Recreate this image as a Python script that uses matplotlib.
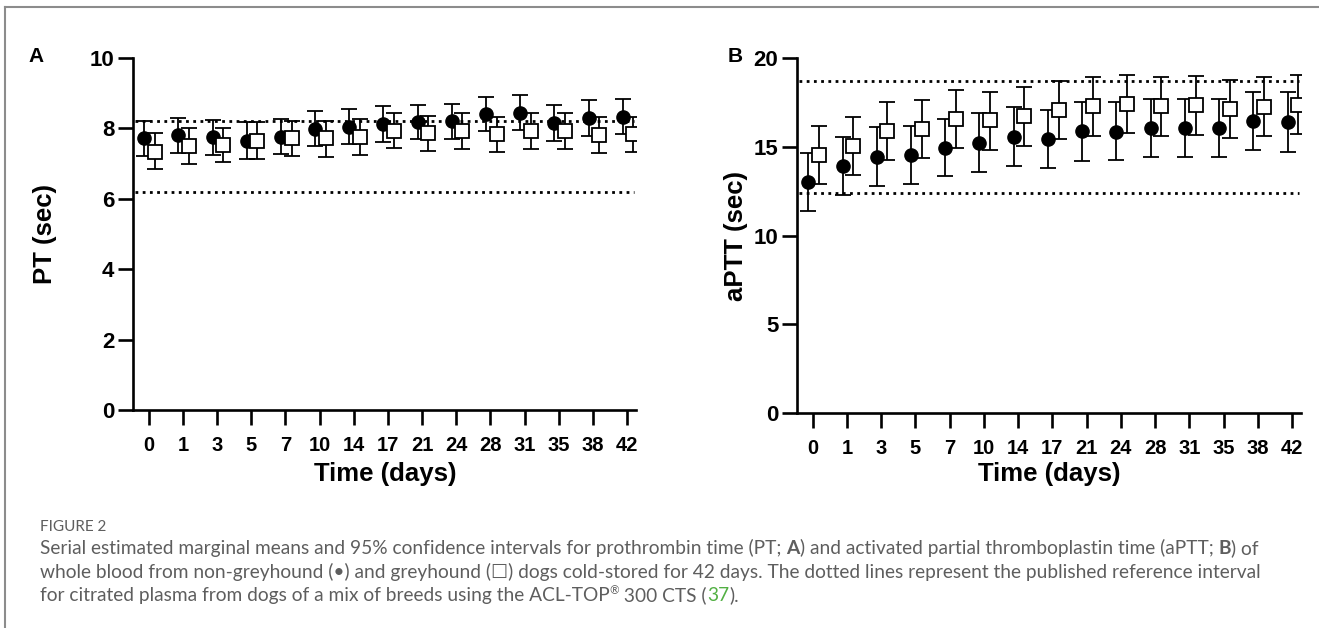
import matplotlib
matplotlib.use("Agg")
import matplotlib.pyplot as plt
from matplotlib.lines import Line2D

# ---------------------------------------------------------------------------
#  data
# ---------------------------------------------------------------------------
days = ["0", "1", "3", "5", "7", "10", "14", "17", "21", "24", "28", "31", "35", "38", "42"]

# panel A : PT (sec)
pt_ng_mean = [7.74, 7.80, 7.76, 7.64, 7.76, 7.98, 8.05, 8.12, 8.19, 8.22, 8.41, 8.45, 8.14, 8.29, 8.33]
pt_ng_hi   = [8.22, 8.29, 8.24, 8.19, 8.28, 8.50, 8.56, 8.63, 8.67, 8.69, 8.89, 8.94, 8.66, 8.81, 8.84]
pt_ng_lo   = [7.22, 7.29, 7.24, 7.13, 7.28, 7.49, 7.56, 7.61, 7.69, 7.71, 7.92, 7.95, 7.65, 7.78, 7.84]
pt_gh_mean = [7.34, 7.50, 7.53, 7.64, 7.72, 7.72, 7.76, 7.93, 7.86, 7.93, 7.84, 7.94, 7.94, 7.80, 7.84]
pt_gh_hi   = [7.86, 8.00, 8.02, 8.19, 8.21, 8.21, 8.26, 8.43, 8.36, 8.43, 8.33, 8.43, 8.43, 8.31, 8.33]
pt_gh_lo   = [6.86, 6.99, 7.04, 7.13, 7.22, 7.20, 7.24, 7.43, 7.36, 7.42, 7.34, 7.42, 7.41, 7.29, 7.34]
pt_ref = [6.2, 8.2]

# panel B : aPTT (sec)
aptt_ng_mean = [13.03, 13.91, 14.41, 14.51, 14.94, 15.22, 15.56, 15.41, 15.88, 15.84, 16.06, 16.06, 16.06, 16.44, 16.38]
aptt_ng_hi   = [14.66, 15.56, 16.10, 16.16, 16.59, 16.91, 17.24, 17.09, 17.51, 17.51, 17.71, 17.71, 17.71, 18.11, 18.07]
aptt_ng_lo   = [11.38, 12.28, 12.78, 12.88, 13.33, 13.59, 13.93, 13.80, 14.19, 14.23, 14.43, 14.40, 14.40, 14.79, 14.71]
aptt_gh_mean = [14.53, 15.03, 15.88, 16.01, 16.57, 16.48, 16.72, 17.09, 17.28, 17.41, 17.32, 17.34, 17.13, 17.24, 17.36]
aptt_gh_hi   = [16.16, 16.68, 17.53, 17.66, 18.20, 18.09, 18.35, 18.73, 18.93, 19.06, 18.93, 19.01, 18.74, 18.91, 19.03]
aptt_gh_lo   = [12.88, 13.40, 14.23, 14.36, 14.92, 14.79, 15.07, 15.46, 15.63, 15.76, 15.63, 15.69, 15.50, 15.60, 15.73]
aptt_ref = [12.4, 18.7]

W, H = 1319, 628
fig = plt.figure(figsize=(W / 100, H / 100), dpi=100)
FONT = "Liberation Sans"


def panel(ax, ng_m, ng_lo, ng_hi, gh_m, gh_lo, gh_hi, ref, ymax, ystep):
    x = list(range(len(days)))
    xc = [i - 0.13 for i in x]
    xs = [i + 0.18 for i in x]
    ng_err = [[m - l for m, l in zip(ng_m, ng_lo)], [h - m for m, h in zip(ng_m, ng_hi)]]
    gh_err = [[m - l for m, l in zip(gh_m, gh_lo)], [h - m for m, h in zip(gh_m, gh_hi)]]

    ax.hlines(ref, -0.4, 14.2, colors="black", linewidth=2.0, linestyles=(0, (1, 1.6)), zorder=1)
    ax.errorbar(xc, ng_m, yerr=ng_err, fmt="o", color="black", ms=9.5,
                ecolor="black", elinewidth=1.3, capsize=6, capthick=1.3, zorder=3)
    ax.errorbar(xs, gh_m, yerr=gh_err, fmt="s", mfc="white", mec="black", mew=1.3, ms=10,
                ecolor="black", elinewidth=1.3, capsize=6, capthick=1.3, zorder=4)

    ax.set_xlim(-0.46, 14.26)
    ax.set_ylim(0, ymax)
    ax.set_yticks(range(0, ymax + 1, ystep))
    ax.set_xticks(x)
    ax.set_xticklabels(days)
    for s in ["top", "right"]:
        ax.spines[s].set_visible(False)
    for s in ["left", "bottom"]:
        ax.spines[s].set_linewidth(1.9)
    ax.tick_params(axis="both", direction="out", length=10.5, width=1.9, color="black")
    ax.tick_params(axis="y", labelsize=16, pad=3)
    ax.tick_params(axis="x", labelsize=14.5, pad=8)
    for lab in ax.get_xticklabels() + ax.get_yticklabels():
        lab.set_fontweight("bold")
        lab.set_family(FONT)
    ax.patch.set_alpha(0)


axA = fig.add_axes([133 / W, 1 - 410 / H, 503 / W, 352 / H])
panel(axA, pt_ng_mean, pt_ng_lo, pt_ng_hi, pt_gh_mean, pt_gh_lo, pt_gh_hi, pt_ref, 10, 2)

axB = fig.add_axes([797 / W, 1 - 413 / H, 504 / W, 355 / H])
panel(axB, aptt_ng_mean, aptt_ng_lo, aptt_ng_hi, aptt_gh_mean, aptt_gh_lo, aptt_gh_hi, aptt_ref, 20, 5)

# axis titles
lab_kw = dict(fontsize=18.5, fontweight="bold", family=FONT, ha="center", va="center")
fig.text(45 / W, 1 - 234 / H, "PT (sec)", rotation=90, **lab_kw)
fig.text(736 / W, 1 - 236 / H, "aPTT (sec)", rotation=90, **lab_kw)
fig.text(385 / W, 1 - 474 / H, "Time (days)", **lab_kw)
fig.text(1049 / W, 1 - 474 / H, "Time (days)", **lab_kw)

# panel letters
fig.text(36 / W, 1 - 57 / H, "A", fontsize=15, fontweight="bold", family=FONT, ha="center", va="center")
fig.text(735 / W, 1 - 57 / H, "B", fontsize=15, fontweight="bold", family=FONT, ha="center", va="center")

# grey frame (top + left)
fig.add_artist(Line2D([5 / W, 1], [1 - 7 / H, 1 - 7 / H], transform=fig.transFigure, color="#8c8c8c", lw=1.5))
fig.add_artist(Line2D([5 / W, 5 / W], [0, 1 - 7 / H], transform=fig.transFigure, color="#8c8c8c", lw=1.5))

# ---------------------------------------------------------------------------
#  caption
# ---------------------------------------------------------------------------
CAP_FONT = ["Lato", "DejaVu Sans"]
CAP_COL = "#5e5e5e"
CAP_SIZE = 13.8
renderer = fig.canvas.get_renderer()


def piece_width(txt, **kw):
    t1 = fig.text(0, 0, txt + "|", **kw)
    t2 = fig.text(0, 0, "|", **kw)
    w = t1.get_window_extent(renderer).width - t2.get_window_extent(renderer).width
    t1.remove()
    t2.remove()
    return w


def rich_line(x_px, y_px, pieces):
    x = x_px
    for txt, extra in pieces:
        kw = dict(fontsize=CAP_SIZE, family=CAP_FONT, color=CAP_COL, va="baseline")
        dy = 0
        if extra.get("sup"):
            kw["fontsize"] = CAP_SIZE * 0.6
            dy = 7
        if extra.get("bold"):
            kw["fontweight"] = "bold"
        if extra.get("color"):
            kw["color"] = extra["color"]
        fig.text(x / W, 1 - (y_px - dy) / H, txt, **kw)
        x += piece_width(txt, **kw)


fig.text(40 / W, 1 - 531 / H, "FIGURE 2", fontsize=11, family=CAP_FONT, color=CAP_COL, va="baseline")
rich_line(40, 554, [
    ("Serial estimated marginal means and 95% confidence intervals for prothrombin time (PT; ", {}),
    ("A", {"bold": True}),
    (") and activated partial thromboplastin time (aPTT; ", {}),
    ("B", {"bold": True}),
    (") of", {}),
])
rich_line(40, 578, [
    ("whole blood from non-greyhound (\u2022) and greyhound (\u2610) dogs cold-stored for 42 days. "
     "The dotted lines represent the published reference interval", {}),
])
rich_line(40, 601, [
    ("for citrated plasma from dogs of a mix of breeds using the ACL-TOP", {}),
    ("\u00ae", {"sup": True}),
    (" 300 CTS (", {}),
    ("37", {"color": "#52b043"}),
    (").", {}),
])

fig.savefig("out.png", dpi=100)
